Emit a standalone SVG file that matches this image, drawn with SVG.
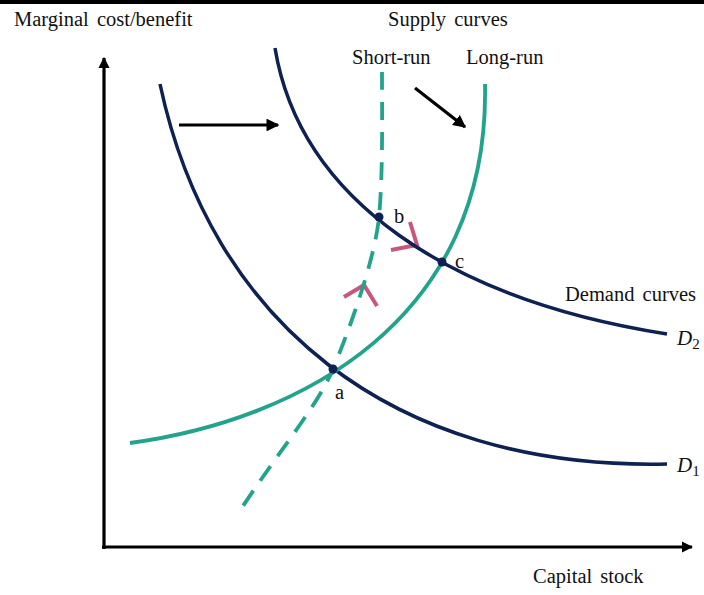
<svg xmlns="http://www.w3.org/2000/svg" width="704" height="595" viewBox="0 0 704 595">
<style>
text{font-family:"Liberation Serif","Times New Roman",serif;font-size:20.5px;fill:#111}
.d{fill:none;stroke:#0d2152;stroke-width:3.5}
.s{fill:none;stroke:#22a38b;stroke-width:3.8}
.k{fill:none;stroke:#000;stroke-width:3.2}
.p{fill:none;stroke:#c8577e;stroke-width:4}
.dot{fill:#0d2152}
.m{font-style:italic;font-size:21px}
.sub{font-size:15px;font-style:normal}
</style>
<defs>
<marker id="ah" viewBox="0 0 10 10" refX="9" refY="5" markerWidth="4" markerHeight="4" orient="auto" markerUnits="strokeWidth">
<path d="M0,0 L10,5 L0,10 Z" fill="#000"/>
</marker>
<marker id="ax" viewBox="0 0 10 10" refX="9" refY="5" markerWidth="3.6" markerHeight="3.6" orient="auto" markerUnits="strokeWidth">
<path d="M0,0 L10,5 L0,10 Z" fill="#000"/>
</marker>
</defs>
<rect x="0" y="0" width="704" height="4" fill="#000"/>
<g id="axes">
<line class="k" x1="104" y1="549" x2="104" y2="58" stroke-width="4" marker-end="url(#ax)"/>
<line class="k" x1="102" y1="547" x2="692" y2="547" stroke-width="4" marker-end="url(#ax)"/>
</g>
<g id="connectors">
<line class="k" x1="179" y1="125" x2="278" y2="125" marker-end="url(#ah)"/>
<line class="k" x1="415" y1="88" x2="465" y2="127" marker-end="url(#ah)"/>
<path class="p" d="M344,297 L364,285 L377,306"/>
<path class="p" d="M410,222 L417,245 L391,250"/>
</g>
<g id="D1"><path class="d" d="M160,84 C210,320 390,470 667,464"/></g>
<g id="D2"><path class="d" d="M275,48 C300,200 450,300 667,334"/></g>
<g id="long-run"><path class="s" d="M130,443 C300,420 490,320 485,84"/></g>
<g id="short-run"><path class="s" stroke-dasharray="18 12" d="M382,72 C382,120 383,174 379,217 S348,333 333,369 S280,450 243,506"/></g>
<g id="point-a"><circle class="dot" cx="333" cy="369" r="4.5"/><text x="335" y="399">a</text></g>
<g id="point-b"><circle class="dot" cx="379" cy="217" r="4.5"/><text x="394" y="223">b</text></g>
<g id="point-c"><circle class="dot" cx="442" cy="262" r="4.5"/><text x="455" y="268">c</text></g>
<g id="labels">
<text x="14" y="26" word-spacing="3">Marginal cost/benefit</text>
<text x="388" y="26" word-spacing="3">Supply curves</text>
<text x="352" y="64">Short-run</text>
<text x="466" y="64">Long-run</text>
<text x="565" y="301" word-spacing="3">Demand curves</text>
<text x="533" y="583" word-spacing="3">Capital stock</text>
<text class="m" x="677" y="345">D<tspan class="sub" dy="4">2</tspan></text>
<text class="m" x="677" y="472">D<tspan class="sub" dy="4">1</tspan></text>
</g>
</svg>
